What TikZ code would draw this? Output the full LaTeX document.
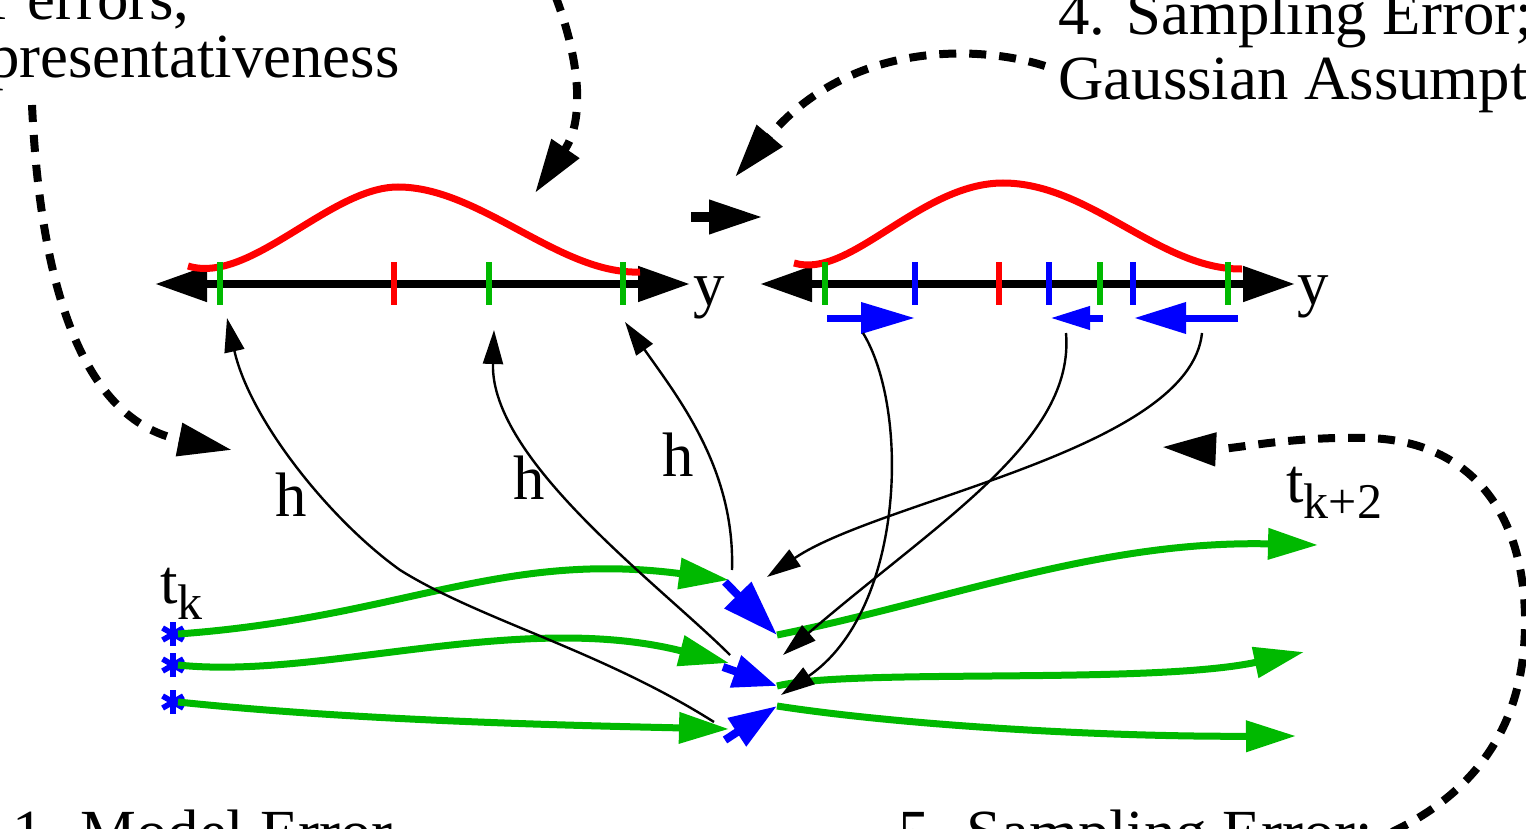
\documentclass[tikz,border=0pt]{standalone}
\usepackage{fontspec}
\setmainfont{Liberation Serif}
\usetikzlibrary{arrows.meta}
\definecolor{fgreen}{RGB}{0,185,0}
\newcommand{\tsub}[2]{#1\raisebox{-8pt}{\fontsize{25}{25}\selectfont #2}}

\begin{document}
\begin{tikzpicture}[
  x=0.5pt,y=-0.5pt,
  lbl/.style={font=\fontsize{31.4}{36}\selectfont, inner sep=0pt},
  member/.style={blue, line width=2.8pt},
  yaxis/.style={line width=4pt, {Triangle[length=26pt,width=17pt]}-{Triangle[length=26pt,width=17pt]}},
  obtick/.style={line width=3pt},
  prior/.style={red, line width=3.5pt},
  hmap/.style={line width=1.2pt, -{Triangle[length=17pt,width=10pt]}},
  errarr/.style={line width=4pt, dash pattern=on 8.5pt off 6.5pt, -{Triangle[length=27pt,width=16pt]}},
  traj/.style={fgreen, line width=3.5pt, -{Triangle[length=25pt,width=15pt]}},
  incr/.style={blue, line width=3.5pt}
]
\useasboundingbox (0,0) rectangle (1526,829);
\clip (0,0) rectangle (1526,829);

% error sources
\node[lbl, anchor=base east] (err2a) at (190,20) {2. Forward operator errors,};
\node[lbl, anchor=base east] (err2b) at (400,78) {representativeness};
\node[lbl, anchor=base west] (err4a) at (1058,35) {4. Sampling Error;};
\node[lbl, anchor=base west] (err4b) at (1058,100) {Gaussian Assumption};
\node[lbl, anchor=base west] (err1) at (12,853) {1. Model Error};
\node[lbl, anchor=base west] (err5) at (898,853) {5. Sampling Error;};

% observation space
\coordinate (axl1) at (155,284); \coordinate (axr1) at (690,284);
\coordinate (axl2) at (760,284); \coordinate (axr2) at (1295,284);
\draw[yaxis] (axl1) -- (axr1);
\draw[yaxis] (axl2) -- (axr2);
\node[lbl, anchor=base west] (ylbl1) at (693,305) {y};
\node[lbl, anchor=base west] (ylbl2) at (1297,304) {y};
\draw[prior] (188,266) .. controls (250,285) and (330,187) .. (398,187)
  .. controls (480,187) and (560,275) .. (640,272);
\draw[prior] (794,263) .. controls (850,280) and (920,183) .. (1003,183)
  .. controls (1090,183) and (1160,270) .. (1242,269);
\foreach \x/\c in {220/fgreen,394/red,489/fgreen,623/fgreen,825/fgreen,915/blue,999/red,1049/blue,1100/fgreen,1133/blue,1228/fgreen}
  \draw[obtick,\c] (\x,262) -- (\x,305);

% increments
\coordinate (inc1a) at (827,318); \coordinate (inc1b) at (915,318);
\coordinate (inc2a) at (1103,318); \coordinate (inc2b) at (1050,318);
\coordinate (inc3a) at (1238,318); \coordinate (inc3b) at (1134,318);
\draw[incr, -{Triangle[length=27pt,width=15pt]}] (inc1a) -- (inc1b);
\draw[incr, -{Triangle[length=20pt,width=11pt]}] (inc2a) -- (inc2b);
\draw[incr, -{Triangle[length=26pt,width=15pt]}] (inc3a) -- (inc3b);
\draw[line width=5pt, -{Triangle[length=27pt,width=16pt]}] (691,217) coordinate (upda) -- (763,217) coordinate (updb);

% ensemble members
\foreach \n/\y in {1/634,2/665,3/702}{
  \coordinate (s\n) at (178,\y);
  \foreach \a in {90,30,150}
    \draw[member] (173,\y) ++(\a:12) -- ++(\a+180:24);
}
\node[lbl, anchor=base west] (tk) at (160,603) {\tsub{t}{k}};
\node[lbl, anchor=base west] (tk2) at (1286,502) {\tsub{t}{k+2}};
\coordinate (g1) at (729,580); \coordinate (g2) at (729,663); \coordinate (g3) at (729,729);
\coordinate (j1) at (777,635); \coordinate (j2) at (777,686); \coordinate (j3) at (777,706);
\draw[traj] (s1) .. controls (400,618) and (500,550) .. (g1);
\draw[traj] (s2) .. controls (320,680) and (520,610) .. (g2);
\draw[traj] (s3) .. controls (350,720) and (550,725) .. (g3);
\draw[incr, line width=4pt, -{Triangle[length=28pt,width=18pt]}] (725,582) -- (j1);
\draw[incr, line width=4pt, -{Triangle[length=22pt,width=16pt]}] (723,667) -- (j2);
\draw[incr, line width=4pt, -{Triangle[length=24pt,width=16pt]}] (725,740) -- (j3);
\draw[traj] (j1) .. controls (950,600) and (1100,540) .. (1318,545);
\draw[traj] (j2) .. controls (850,668) and (1150,685) .. (1304,652);
\draw[traj] (j3) .. controls (900,725) and (1100,737) .. (1296,736);

% forward operator and regression
\coordinate (ob1) at (227,318); \coordinate (ob2) at (494,330); \coordinate (ob3) at (625,322);
\draw[hmap] (714,722) .. controls (600,650) and (480,620) .. (400,570)
  .. controls (330,520) and (250,420) .. (ob1);
\draw[hmap] (730,655) .. controls (660,585) and (490,460) .. (ob2);
\draw[hmap] (732,570) .. controls (735,470) and (680,400) .. (ob3);
\node[lbl] (h1) at (291,495) {h};
\node[lbl] (h2) at (529,478) {h};
\node[lbl] (h3) at (678,455) {h};
\draw[hmap] (863,333) .. controls (910,410) and (905,610) .. (781,695);
\draw[hmap] (1066,333) .. controls (1075,440) and (940,520) .. (783,655);
\draw[hmap] (1202,333) .. controls (1190,450) and (880,500) .. (767,577);

% error arrows
\draw[errarr] (32,105) .. controls (40,280) and (80,420) .. (232,450);
\draw[errarr] (555,-5) .. controls (580,60) and (585,120) .. (535,193);
\draw[errarr] (1045,66) .. controls (980,45) and (850,40) .. (735,177);
\draw[errarr] (1392,832) .. controls (1480,790) and (1527,720) .. (1525,615)
  .. controls (1522,500) and (1460,440) .. (1367,438)
  .. controls (1290,436) and (1230,450) .. (1162,447);
\end{tikzpicture}
\end{document}
